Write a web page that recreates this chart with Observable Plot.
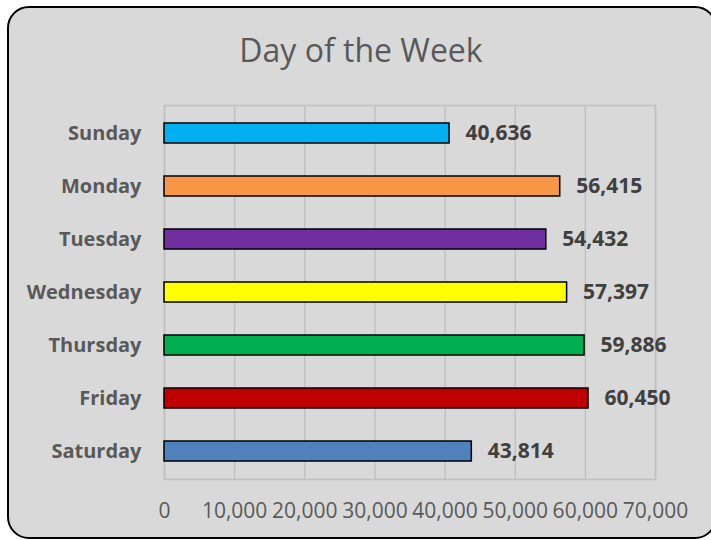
<!DOCTYPE html>
<html>
<head>
<meta charset="utf-8">
<script src="https://cdn.jsdelivr.net/npm/d3@7"></script>
<script src="https://cdn.jsdelivr.net/npm/@observablehq/plot@0.6"></script>
<style>
  html, body { margin: 0; padding: 0; background: #ffffff; }
  #wrap { position: relative; width: 711px; height: 540px; overflow: hidden; font-family: "Open Sans", sans-serif; }
  #card { position: absolute; left: 7px; top: 6px; width: 710px; height: 533px; box-sizing: border-box;
          background: #d9d9d9; border: 2px solid #000; border-radius: 22px; }
  #title { position: absolute; left: 7px; width: 708px; top: 34px; text-align: center;
           font-size: 32px; line-height: 32px; color: #595959; }
  #chart { position: absolute; left: 0; top: 0; }
</style>
</head>
<body>
<div id="wrap">
  <div id="card"></div>
  <div id="title">Day of the Week</div>
  <div id="chart"></div>
</div>
<script>
const days = ["Sunday", "Monday", "Tuesday", "Wednesday", "Thursday", "Friday", "Saturday"];
const counts = [40636, 56415, 54432, 57397, 59886, 60450, 43814];
const barColors = ["#00b0f0", "#f79646", "#7030a0", "#ffff00", "#00b050", "#c00000", "#4f81bd"];
const xTicks = [0, 10000, 20000, 30000, 40000, 50000, 60000, 70000];

const data = days.map((d, i) => ({day: d, value: counts[i]}));
const fmt = d3.format(",");

const chart = Plot.plot({
  width: 711,
  height: 540,
  marginLeft: 164,
  marginRight: 56,
  marginTop: 105,
  marginBottom: 61,
  style: {background: "transparent", fontFamily: "'Open Sans', sans-serif"},
  x: {domain: [0, 70000], label: null},
  y: {domain: days, label: null, paddingInner: 0.625, paddingOuter: 0.3125},
  color: {domain: days, range: barColors},
  marks: [
    Plot.gridX(xTicks, {stroke: "#bfbfbf", strokeOpacity: 1, strokeWidth: 1.4}),
    Plot.frame({stroke: "#bfbfbf", strokeWidth: 1.4}),
    Plot.barX(data, {x: "value", y: "day", fill: "day", stroke: "#000", strokeWidth: 1.5}),
    Plot.text(data, {x: "value", y: "day", text: d => fmt(d.value), dx: 16,
      textAnchor: "start", fontWeight: "bold", fontSize: 21, fill: "#404040"}),
    Plot.axisX({ticks: xTicks, tickFormat: fmt, tickSize: 0, tickPadding: 24, fontSize: 21, color: "#595959"}),
    Plot.axisY({tickSize: 0, tickPadding: 23, fontSize: 20, fontWeight: "bold", color: "#595959"})
  ]
});
document.getElementById("chart").appendChild(chart);
</script>
</body>
</html>
